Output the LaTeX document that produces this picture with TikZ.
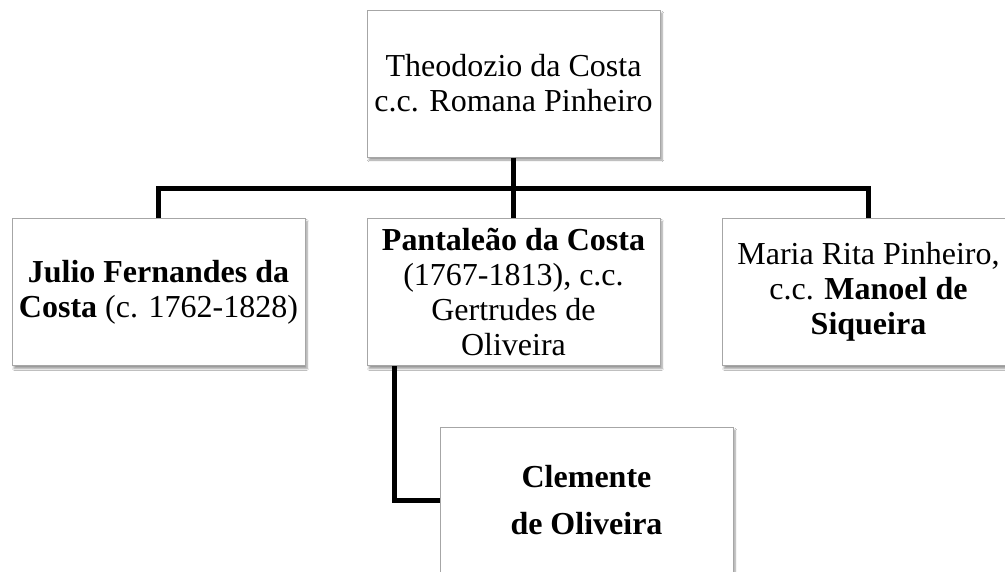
\documentclass[tikz,border=0pt]{standalone}
\usepackage{fontspec}
\setmainfont{Liberation Serif}
\usetikzlibrary{shadows.blur}

\tikzset{
  person/.style={draw=gray!70,line width=1pt,fill=white,minimum width=293pt,minimum height=147pt,
    inner sep=0pt,align=center,font=\fontsize{32}{35}\selectfont,
    blur shadow={shadow xshift=2pt,shadow yshift=-3pt,shadow blur steps=6,shadow opacity=40}},
  tree/.style={line width=5pt,black}
}

\begin{document}
\begin{tikzpicture}[x=1pt,y=-1pt]
\useasboundingbox[fill=white] (0,0) rectangle (1005,571);

\node[person] (theo) at (513.5,83.5) {Theodozio da Costa\\c.c. Romana Pinheiro};

\node[person] (julio) at (158.5,292) {\textbf{Julio Fernandes da}\\\textbf{Costa} (c. 1762-1828)};
\node[person] (panta) at (513.5,292) {\textbf{Pantaleão da Costa}\\(1767-1813), c.c.\\Gertrudes de\\Oliveira};
\node[person] (maria) at (868.5,292) {Maria Rita Pinheiro,\\c.c. \textbf{Manoel de}\\\textbf{Siqueira}};

\node[person,font=\fontsize{32}{47}\selectfont] (clem) at (586.5,500.5) {\textbf{Clemente}\\\textbf{de Oliveira}};

\coordinate (bar) at (513.5,188);
\draw[tree] (theo.south) -- (bar);
\draw[tree] (julio.north) |- (bar) -| (maria.north);
\draw[tree] (bar) -- (panta.north);
\draw[tree] ([xshift=28pt]panta.south west) |- (clem.west);
\end{tikzpicture}
\end{document}
